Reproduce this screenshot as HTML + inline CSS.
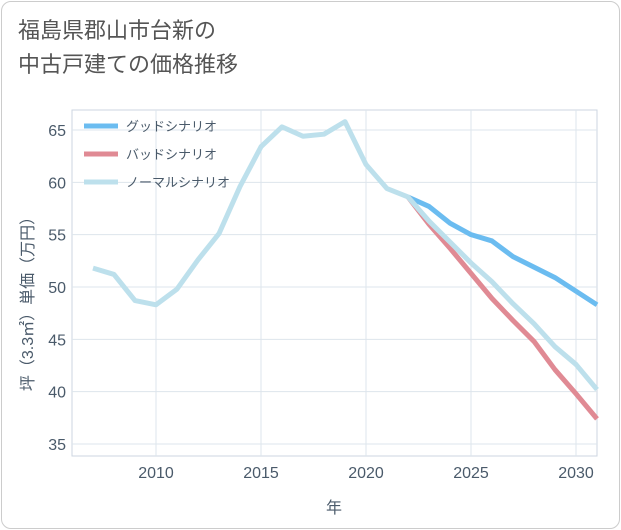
<!DOCTYPE html>
<html><head><meta charset="utf-8"><style>
body{margin:0;background:#fff;}
#wrap{position:relative;width:621px;height:530px;font-family:"Liberation Sans","Noto Sans CJK JP",sans-serif;}
#card{position:absolute;left:1px;top:1px;width:617px;height:526px;border:1px solid #ccc;border-radius:10px;}
#title{position:absolute;left:18px;top:14px;font-size:22px;line-height:34px;color:#555;}
</style></head><body>
<div id="wrap">
<div id="card"></div>
<div id="title">福島県郡山市台新の<br>中古戸建ての価格推移</div>
<svg id="svg" width="621" height="530" style="position:absolute;left:0;top:0"></svg>
</div>
<script>
const years=[2007,2008,2009,2010,2011,2012,2013,2014,2015,2016,2017,2018,2019,2020,2021,2022,2023,2024,2025,2026,2027,2028,2029,2030,2031];
const normalVals=[51.8,51.2,48.7,48.3,49.8,52.6,55.1,59.6,63.4,65.3,64.4,64.6,65.8,61.7,59.4,58.6,56.3,54.3,52.3,50.5,48.4,46.5,44.3,42.6,40.2];
const futureYears=[2022,2023,2024,2025,2026,2027,2028,2029,2030,2031];
const goodVals=[58.6,57.7,56.1,55.0,54.4,52.9,51.9,50.9,49.6,48.3];
const badVals=[58.6,56.0,53.7,51.3,48.9,46.8,44.8,42.1,39.8,37.4];
const xTicks=[2010,2015,2020,2025,2030];
const yTicks=[35,40,45,50,55,60,65];
const legendLabels=["グッドシナリオ","バッドシナリオ","ノーマルシナリオ"];
const colors=["#6bbcf0","#e08a94","#bde0ec"];
const L=72,R=597,T=110,B=456;
const x=y=>156+(y-2010)*21;
const yv=v=>444-(v-35)*(314/30);
const svg=document.getElementById('svg');
const NS='http://www.w3.org/2000/svg';
function mk(t,a){const e=document.createElementNS(NS,t);for(const k in a)e.setAttribute(k,a[k]);svg.appendChild(e);return e;}
const frame=mk('rect',{x:L,y:T,width:R-L,height:B-T,fill:'none',stroke:'#ccd6e0'});


xTicks.forEach(t=>{const g=mk('line',{x1:x(t),x2:x(t),y1:T,y2:B,stroke:'#dde5ec'});


const l=mk('text',{x:x(t),y:478,'text-anchor':'middle','font-size':16,fill:'#4a5a6a'});l.textContent=t;

});
yTicks.forEach(t=>{const g=mk('line',{x1:L,x2:R,y1:yv(t),y2:yv(t),stroke:'#dde5ec'});


const l=mk('text',{x:66,y:yv(t)+6,'text-anchor':'end','font-size':16,fill:'#4a5a6a'});l.textContent=t;

});
const xt=mk('text',{x:334,y:513,'text-anchor':'middle','font-size':16,fill:'#4a5a6a'});xt.textContent='年';


const yt=mk('text',{x:0,y:0,'text-anchor':'middle','font-size':16,fill:'#4a5a6a',transform:'translate(33,300) rotate(-90)'});yt.textContent='坪（3.3㎡）単価（万円）';


function line(xs,vs,c,name){const p=mk('polyline',{points:xs.map((d,i)=>x(d)+','+yv(vs[i])).join(' '),fill:'none',stroke:c,'stroke-width':5,'stroke-linejoin':'round'});

}
line(futureYears,goodVals,colors[0],'good-scenario-line');
line(futureYears,badVals,colors[1],'bad-scenario-line');
line(years,normalVals,colors[2],'normal-scenario-line');
legendLabels.forEach((s,i)=>{const yy=126+i*28;
const m=mk('line',{x1:84,x2:118,y1:yy,y2:yy,stroke:colors[i],'stroke-width':5});


const t=mk('text',{x:126,y:yy+5,'font-size':13,fill:'#4a5a6a'});t.textContent=s;

});
</script>
</body></html>
